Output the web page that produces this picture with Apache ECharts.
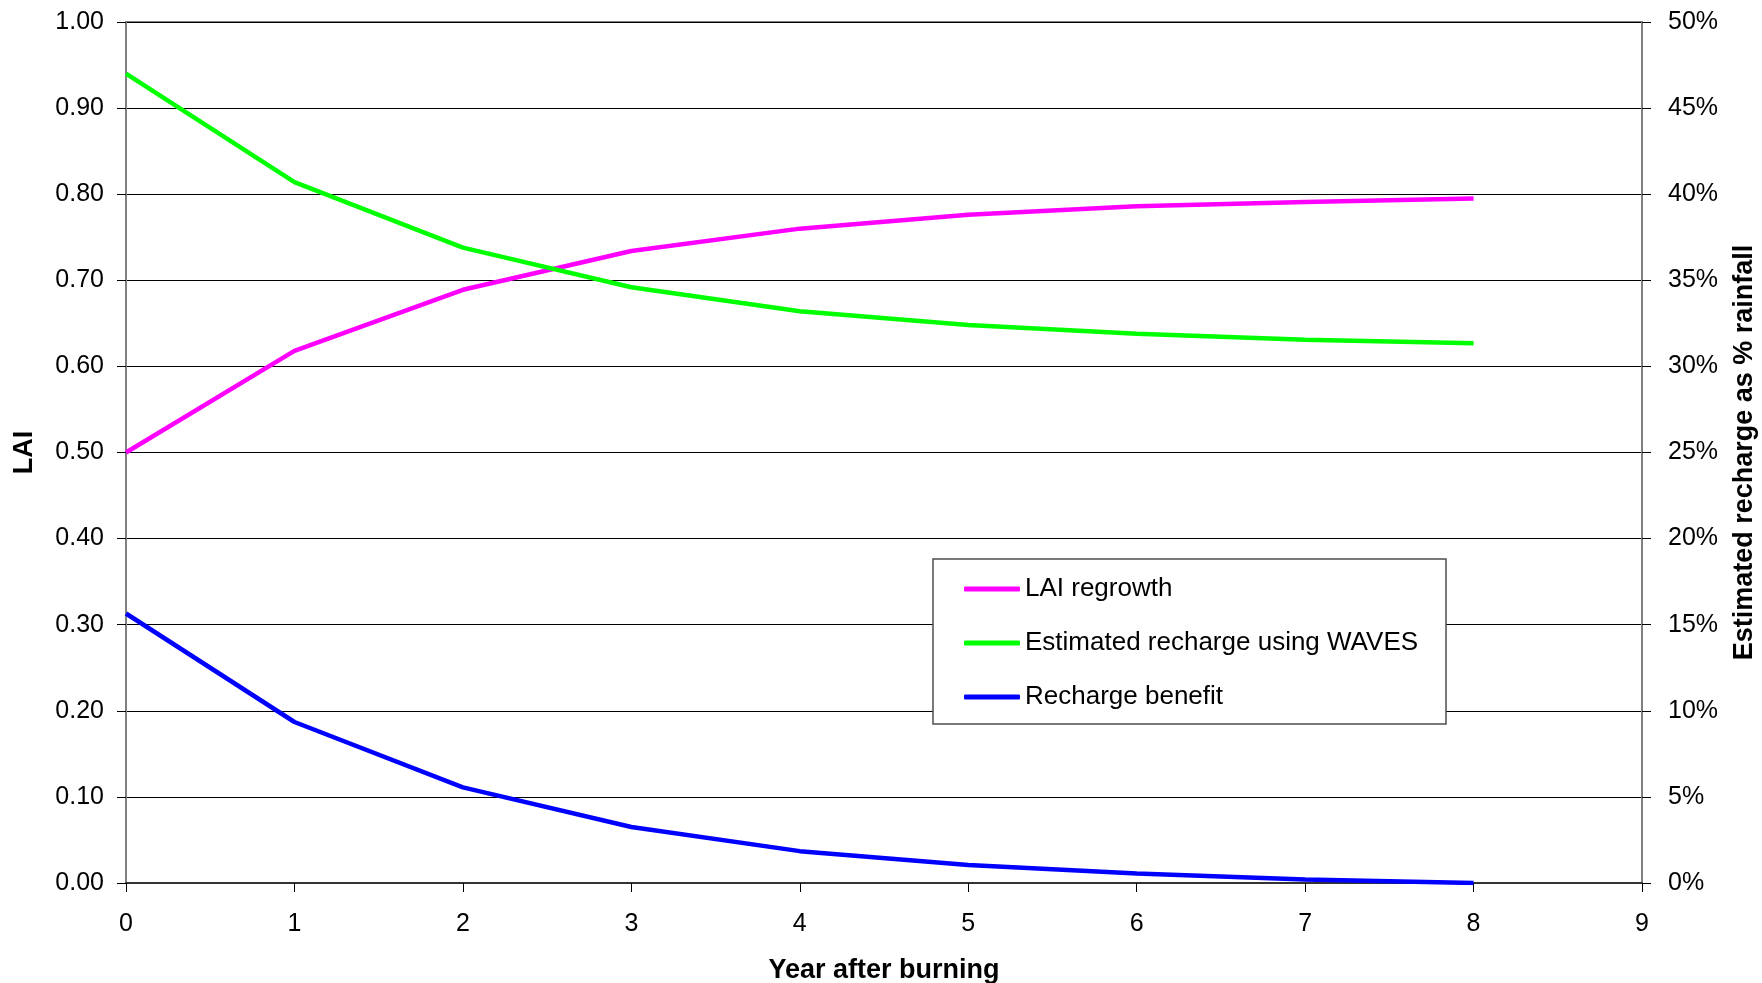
<!DOCTYPE html>
<html>
<head>
<meta charset="utf-8">
<title>LAI regrowth and recharge</title>
<script src="https://cdn.jsdelivr.net/npm/echarts@6/dist/echarts.min.js"></script>
<style>
  html, body { margin: 0; padding: 0; background: #fff; }
  #chart { width: 1762px; height: 983px; }
</style>
</head>
<body>
<div id="chart"></div>
<script>
// Years after the burn
const years = [0, 1, 2, 3, 4, 5, 6, 7, 8];
// Leaf area index regrowth (left axis)
const laiRegrowth = [0.500, 0.618, 0.689, 0.734, 0.760, 0.776, 0.786, 0.791, 0.795];
// Recharge estimated with WAVES, % of rainfall (right axis)
const wavesRecharge = [47.0, 40.7, 36.9, 34.6, 33.2, 32.4, 31.9, 31.55, 31.35];
// Recharge benefit over the long-term level, % of rainfall (right axis)
const rechargeBenefit = [15.65, 9.35, 5.55, 3.25, 1.85, 1.05, 0.55, 0.2, 0.0];

const seriesNames = ['LAI regrowth', 'Estimated recharge using WAVES', 'Recharge benefit'];
const seriesColors = ['#ff00ff', '#00ff00', '#0000ff'];

const FONT = "'Liberation Sans', Arial, sans-serif";

const pairs = arr => years.map((y, i) => [y, arr[i]]);

const chart = echarts.init(document.getElementById('chart'), null, { renderer: 'canvas' });

chart.setOption({
  animation: false,
  backgroundColor: '#ffffff',
  textStyle: { fontFamily: FONT, color: '#000' },
  grid: {
    left: 126, right: 120, top: 22, bottom: 100,
    outerBoundsMode: 'none',
    containLabel: false,
    show: true, borderColor: '#808080', borderWidth: 2, backgroundColor: 'transparent'
  },
  legend: {
    orient: 'vertical',
    left: 964, top: 574,
    padding: 0,
    itemWidth: 56, itemHeight: 5, itemGap: 24,
    icon: 'roundRect',
    z: 60,
    data: seriesNames,
    textStyle: { fontFamily: FONT, fontSize: 26, color: '#000', lineHeight: 30 }
  },
  graphic: [{
    type: 'rect',
    z: 50,
    shape: { x: 933, y: 559, width: 513, height: 165 },
    style: { fill: '#ffffff', stroke: '#4d4d4d', lineWidth: 1.5 }
  }],
  xAxis: {
    type: 'value',
    min: 0, max: 9, interval: 1,
    name: 'Year after burning',
    nameLocation: 'middle',
    nameGap: 74,
    nameTextStyle: { fontFamily: FONT, fontSize: 27, fontWeight: 'bold', color: '#000' },
    axisLine: { show: true, onZero: false, lineStyle: { color: '#333', width: 2 } },
    axisTick: { show: true, inside: false, length: 9, lineStyle: { color: '#000', width: 1 } },
    axisLabel: { fontFamily: FONT, fontSize: 25, color: '#000', margin: 29 },
    splitLine: { show: false }
  },
  yAxis: [{
    type: 'value',
    position: 'left',
    min: 0, max: 1, interval: 0.1,
    name: 'LAI',
    nameLocation: 'middle',
    nameGap: 88,
    nameTextStyle: { fontFamily: FONT, fontSize: 27, fontWeight: 'bold', color: '#000' },
    axisLine: { show: true, lineStyle: { color: '#808080', width: 2 } },
    axisTick: { show: true, inside: false, length: 9, lineStyle: { color: '#000', width: 1 } },
    axisLabel: {
      fontFamily: FONT, fontSize: 25, color: '#000', margin: 22,
      formatter: v => v.toFixed(2)
    },
    splitLine: { show: true, lineStyle: { color: '#000', width: 1 } }
  }, {
    type: 'value',
    position: 'right',
    min: 0, max: 50, interval: 5,
    name: 'Estimated recharge as % rainfall',
    nameLocation: 'middle',
    nameGap: 89,
    nameTextStyle: { fontFamily: FONT, fontSize: 27, fontWeight: 'bold', color: '#000' },
    axisLine: { show: true, lineStyle: { color: '#808080', width: 2 } },
    axisTick: { show: true, inside: false, length: 9, lineStyle: { color: '#000', width: 1 } },
    axisLabel: { fontFamily: FONT, fontSize: 25, color: '#000', margin: 26, formatter: '{value}%' },
    splitLine: { show: false }
  }],
  series: [{
    name: seriesNames[0],
    type: 'line',
    yAxisIndex: 0,
    data: pairs(laiRegrowth),
    showSymbol: false,
    color: seriesColors[0],
    lineStyle: { width: 4.5, color: seriesColors[0] },
    z: 3
  }, {
    name: seriesNames[1],
    type: 'line',
    yAxisIndex: 1,
    data: pairs(wavesRecharge),
    showSymbol: false,
    color: seriesColors[1],
    lineStyle: { width: 4.5, color: seriesColors[1] },
    z: 3
  }, {
    name: seriesNames[2],
    type: 'line',
    yAxisIndex: 1,
    data: pairs(rechargeBenefit),
    showSymbol: false,
    color: seriesColors[2],
    lineStyle: { width: 4.5, color: seriesColors[2] },
    z: 3
  }]
});
</script>
</body>
</html>
